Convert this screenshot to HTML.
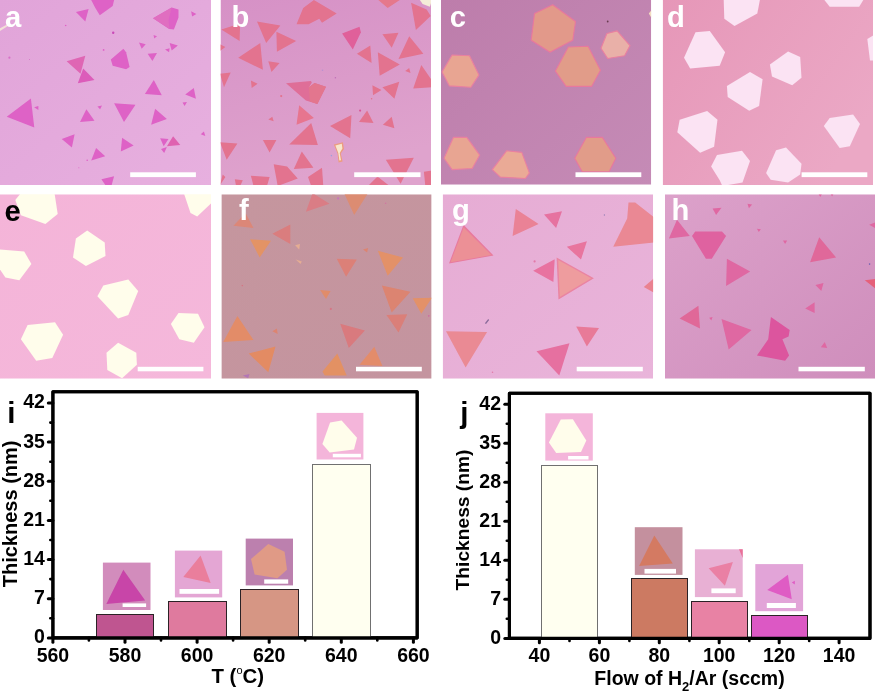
<!DOCTYPE html>
<html><head><meta charset="utf-8"><title>figure</title>
<style>
html,body{margin:0;padding:0;background:#fff;}
body{width:875px;height:693px;overflow:hidden;font-family:"Liberation Sans",sans-serif;}
svg{display:block;}
text{font-family:"Liberation Sans",sans-serif;font-weight:bold;}
</style></head><body>
<svg width="875" height="693" viewBox="0 0 875 693">
<defs>
<filter id="bl" x="-5%" y="-5%" width="110%" height="110%"><feGaussianBlur stdDeviation="0.68"/></filter>
<filter id="bs" x="-5%" y="-5%" width="110%" height="110%"><feGaussianBlur stdDeviation="0.5"/></filter>

<linearGradient id="ga" x1="0" y1="0" x2="1" y2="1"><stop offset="0" stop-color="#e1a4d9"/><stop offset="1" stop-color="#e7b0df"/></linearGradient>
<linearGradient id="gb" x1="0" y1="0" x2="0.3" y2="1"><stop offset="0" stop-color="#d691c6"/><stop offset="1" stop-color="#dfa3cd"/></linearGradient>
<linearGradient id="gc" x1="0" y1="0" x2="1" y2="1"><stop offset="0" stop-color="#bd7dab"/><stop offset="1" stop-color="#c58bb6"/></linearGradient>
<linearGradient id="gd" x1="0" y1="0" x2="1" y2="0.6"><stop offset="0" stop-color="#e697b8"/><stop offset="1" stop-color="#eba8c5"/></linearGradient>
<linearGradient id="ge" x1="0" y1="0" x2="1" y2="1"><stop offset="0" stop-color="#f4b4d8"/><stop offset="1" stop-color="#f5b8db"/></linearGradient>
<linearGradient id="gf" x1="0" y1="0" x2="1" y2="1"><stop offset="0" stop-color="#c5969e"/><stop offset="1" stop-color="#c4949f"/></linearGradient>
<linearGradient id="gg" x1="0" y1="0" x2="1" y2="1"><stop offset="0" stop-color="#e6acd4"/><stop offset="1" stop-color="#e9b4da"/></linearGradient>
<linearGradient id="gh" x1="0" y1="0" x2="1" y2="1"><stop offset="0" stop-color="#dca1ca"/><stop offset="1" stop-color="#cf8ebc"/></linearGradient>
<clipPath id="ca"><rect x="0" y="0" width="211" height="185"/></clipPath>
<clipPath id="cb"><rect x="220.5" y="0" width="210.5" height="185"/></clipPath>
<clipPath id="cc"><rect x="441" y="0" width="210.2" height="184.7"/></clipPath>
<clipPath id="cd"><rect x="662.7" y="0" width="210.3" height="185"/></clipPath>
<clipPath id="ce"><rect x="0" y="194.3" width="211" height="184.4"/></clipPath>
<clipPath id="cf"><rect x="221.4" y="194.3" width="210.2" height="184.4"/></clipPath>
<clipPath id="cg"><rect x="442.7" y="194.3" width="210.4" height="184.4"/></clipPath>
<clipPath id="ch"><rect x="665" y="194.3" width="210" height="184.4"/></clipPath>
</defs>
<rect width="875" height="693" fill="#fff"/>
<g clip-path="url(#ca)" opacity="0.999">
<rect x="0" y="0" width="211" height="185" fill="url(#ga)"/>
<g filter="url(#bl)">
<polygon points="91.2,0.0 114.1,0.0 112.7,5.9 99.8,15.3 95.3,8.1" fill="#de62c6"/>
<polygon points="75.9,12.1 88.6,8.9 85.3,21.5" fill="#de62c6"/>
<polygon points="153.0,18.2 171.7,7.5 178.5,9.4 178.5,17.4 173.9,29.5 169.1,29.0" fill="#de62c6"/>
<polygon points="153.0,18.2 171.7,7.5 168.5,20.1 169.6,29.0" fill="#e06ec0"/>
<polygon points="191.1,11.3 196.4,14.0 192.1,16.6" fill="#de62c6"/>
<circle cx="65.7" cy="25.5" r="0.8" fill="#de62c6"/>
<circle cx="113.2" cy="32.7" r="1.2" fill="#c948b8"/>
<circle cx="103.6" cy="49.9" r="0.9" fill="#de62c6"/>
<polygon points="153.5,34.9 157.0,36.2 154.3,38.4" fill="#de62c6"/>
<polygon points="139.0,42.4 145.7,44.3 141.7,48.8" fill="#de62c6"/>
<polygon points="169.6,42.9 177.9,45.6 171.7,50.5" fill="#de62c6"/>
<polygon points="165.0,49.6 169.6,48.3 169.1,52.3" fill="#de62c6"/>
<polygon points="147.6,53.7 157.0,52.9 152.4,60.9" fill="#de62c6"/>
<polygon points="66.6,61.2 85.3,55.8 80.5,73.8" fill="#df66b4"/>
<polygon points="83.2,68.4 94.5,80.0 77.8,83.2" fill="#dc5cba"/>
<polygon points="110.8,59.6 123.4,48.8 126.1,52.3 129.6,67.1 126.1,69.2 112.7,65.7" fill="#de62c6"/>
<polygon points="144.9,93.9 153.8,80.0 161.8,95.3" fill="#de62c6"/>
<polygon points="185.2,94.5 193.8,88.0 195.9,98.8" fill="#de62c6"/>
<polygon points="182.5,102.5 187.0,102.0 184.6,106.0" fill="#de62c6"/>
<polygon points="6.7,116.7 30.9,98.5 34.3,127.5" fill="#de62c6"/>
<polygon points="34.1,107.3 38.4,106.0 38.4,110.0" fill="#de62c6"/>
<polygon points="97.4,106.5 102.0,105.5 100.1,109.2" fill="#de62c6"/>
<polygon points="80.0,122.1 86.4,109.2 94.5,120.8" fill="#de62c6"/>
<polygon points="114.1,103.3 135.5,104.7 124.0,122.1" fill="#de62c6"/>
<polygon points="151.1,124.8 155.1,108.7 166.9,118.9" fill="#de62c6"/>
<polygon points="200.7,134.2 203.9,131.5 205.3,136.1" fill="#de62c6"/>
<polygon points="61.7,139.0 74.6,134.2 71.9,147.6" fill="#de62c6"/>
<polygon points="120.8,151.6 122.1,137.7 133.6,145.4" fill="#de62c6"/>
<polygon points="160.2,138.2 168.5,139.0 163.7,146.3" fill="#de62c6"/>
<polygon points="161.0,148.9 166.9,147.1 164.2,153.0" fill="#de62c6"/>
<polygon points="166.9,146.3 173.1,136.3 180.3,144.9" fill="#df62b0"/>
<polygon points="91.2,160.5 96.1,148.1 105.2,156.2" fill="#de62c6"/>
<circle cx="87.2" cy="160.2" r="0.8" fill="#de62c6"/>
<circle cx="78.9" cy="167.7" r="0.5" fill="#de62c6"/>
<circle cx="9.4" cy="57.7" r="1.1" fill="#d870c8"/>
<circle cx="29.5" cy="59.6" r="0.5" fill="#d870c8"/>
<polygon points="101.4,179.3 114.1,176.3 111.4,186.0 106.0,186.0" fill="#de62c6"/>
<polygon points="0.0,28.2 6.7,24.7 7.5,26.3 0.0,31.1" fill="#f3e0d8"/>
</g>
<rect x="130.2" y="172.3" width="65.7" height="4.8" fill="#fff" filter="url(#bs)"/>
<text x="5" y="26.8" font-size="29.2" fill="#fff">a</text>
</g>
<g clip-path="url(#cb)" opacity="0.999">
<rect x="220.5" y="0" width="210.5" height="185" fill="url(#gb)"/>
<g filter="url(#bl)">
<polygon points="221.3,29.5 240.1,23.6 239.6,41.1" fill="#e3738f"/>
<polygon points="257.0,21.5 280.4,25.5 266.2,42.9" fill="#e3738f"/>
<polygon points="276.4,31.7 296.2,41.1 276.9,51.8" fill="#e3738f"/>
<polygon points="296.5,24.2 303.2,8.1 313.9,0.0 336.7,13.4 322.0,22.8 319.3,18.8 308.6,24.2" fill="#e3738f"/>
<polygon points="238.2,57.7 260.3,42.9 262.9,69.8" fill="#e3738f"/>
<polygon points="268.3,61.2 279.6,63.1 271.5,71.9" fill="#e3738f"/>
<polygon points="220.0,44.3 225.4,47.0 220.0,51.0" fill="#e3738f"/>
<polygon points="220.0,73.8 230.7,72.5 224.0,87.2" fill="#e3738f"/>
<polygon points="250.9,80.5 257.6,83.7 251.7,88.0" fill="#e3738f"/>
<polygon points="286.0,83.2 311.0,81.0 311.8,82.7 308.8,87.2 314.5,82.9 326.0,86.7 317.4,104.1 305.9,100.6" fill="#df6e98"/>
<polygon points="308.8,87.2 314.5,82.9 326.0,86.7 317.4,104.1 309.9,101.4" fill="#e3768e"/>
<circle cx="281.2" cy="96.1" r="1.1" fill="#e3738f"/>
<polygon points="296.5,124.8 299.2,105.2 313.9,118.1" fill="#e7758f"/>
<polygon points="268.3,119.4 272.3,116.7 273.7,121.3" fill="#e3738f"/>
<polygon points="289.2,144.4 311.2,122.9 317.9,144.9" fill="#e3738f"/>
<polygon points="262.9,140.1 276.4,140.1 269.6,152.4" fill="#e3738f"/>
<polygon points="220.0,142.2 237.4,143.6 226.7,159.7" fill="#e3738f"/>
<polygon points="293.8,169.1 301.8,151.6 313.4,167.7" fill="#e3738f"/>
<polygon points="273.7,164.2 287.1,166.4 297.8,178.5 277.7,186.0" fill="#e3738f"/>
<polygon points="250.9,175.8 269.6,177.1 267.0,186.0 253.5,186.0" fill="#e3738f"/>
<polygon points="234.8,179.3 242.8,180.3 240.1,186.0 236.1,186.0" fill="#e3738f"/>
<polygon points="308.0,177.1 322.0,167.7 323.3,186.0 311.2,186.0" fill="#e3738f"/>
<polygon points="330.0,126.1 351.5,114.9 350.2,138.2" fill="#e3738f"/>
<polygon points="342.1,33.5 359.5,26.8 360.9,32.2 352.8,49.6" fill="#e0609a"/>
<polygon points="356.9,53.7 370.3,45.6 371.6,63.1" fill="#e3738f"/>
<polygon points="382.4,34.3 398.5,32.7 391.7,47.8" fill="#e3738f"/>
<polygon points="398.5,59.0 409.2,36.2 423.4,53.7" fill="#e3738f"/>
<polygon points="411.1,2.7 426.6,9.4 430.7,16.1 415.9,30.1" fill="#e3738f"/>
<polygon points="378.3,0.0 399.8,0.0 387.7,8.1" fill="#e5788c"/>
<polygon points="419.9,0.0 432.0,0.0 429.9,6.7 422.6,4.0" fill="#f4ecd8"/>
<polygon points="377.8,52.3 399.8,64.4 379.7,75.7" fill="#e3738f"/>
<polygon points="405.2,71.1 409.2,67.9 410.5,73.0" fill="#e3738f"/>
<polygon points="413.2,88.6 421.3,64.9 432.0,80.5 432.0,87.2" fill="#e3738f"/>
<polygon points="382.4,87.2 399.3,81.8 394.4,98.8" fill="#e3738f"/>
<polygon points="372.4,85.3 381.5,89.9 373.0,95.3" fill="#e3738f"/>
<circle cx="371.6" cy="98.8" r="0.8" fill="#e3738f"/>
<circle cx="360.1" cy="110.6" r="1.1" fill="#d85898"/>
<polygon points="359.0,122.1 367.1,110.6 373.5,122.9" fill="#e3738f"/>
<polygon points="382.9,124.8 391.7,116.7 394.4,128.3" fill="#e3738f"/>
<polygon points="385.8,159.7 413.8,157.8 400.6,183.8" fill="#e3738f"/>
<polygon points="367.9,186.0 377.5,176.6 389.6,186.0" fill="#e3738f"/>
<polygon points="423.9,171.7 432.0,170.4 432.0,186.0 425.3,186.0" fill="#e3738f"/>
<polygon points="220.0,185.2 222.7,174.4 225.4,177.1" fill="#e3738f"/>
<polygon points="333.8,144.4 342.9,142.2 344.0,148.9 340.8,153.5 342.6,161.5 338.6,162.4 337.5,153.5" fill="#ec9c80"/>
<polygon points="335.4,145.4 341.8,143.8 342.4,148.4 339.7,153.0 341.0,160.2 339.4,160.5 338.3,153.0" fill="#f8e8cc"/>
<circle cx="322.5" cy="70.3" r="0.8" fill="#b890d0"/>
<circle cx="335.4" cy="77.8" r="0.8" fill="#c070b8"/>
<circle cx="331.4" cy="155.6" r="0.8" fill="#a0a0d8"/>
</g>
<rect x="354.2" y="172.3" width="66.3" height="4.8" fill="#fff" filter="url(#bs)"/>
<text x="231.5" y="26.8" font-size="29.2" fill="#fff">b</text>
</g>
<g clip-path="url(#cc)" opacity="0.999">
<rect x="441" y="0" width="210.2" height="184.7" fill="url(#gc)"/>
<g filter="url(#bl)">
<polygon points="531.2,40.3 534.5,13.4 552.7,4.8 575.5,21.5 572.8,40.3 550.0,52.3" fill="#e2998a" stroke="#e8789e" stroke-width="1.1" stroke-linejoin="round"/>
<polygon points="555.4,71.1 568.3,47.0 588.1,46.2 600.5,70.3 591.6,86.4 566.1,86.4" fill="#e19c89" stroke="#e8789e" stroke-width="1.1" stroke-linejoin="round"/>
<polygon points="601.0,48.3 606.9,33.5 617.1,30.9 630.0,45.6 624.6,55.8 607.7,58.5" fill="#e9b0a8" stroke="#ea80a0" stroke-width="1.1" stroke-linejoin="round"/>
<polygon points="442.1,71.9 452.1,55.0 469.5,55.8 478.9,75.1 470.9,87.2 449.4,85.9" fill="#e8a592" stroke="#ea80a0" stroke-width="1.1" stroke-linejoin="round"/>
<polygon points="444.0,158.3 453.4,137.4 466.8,137.4 479.7,155.1 472.2,168.5 452.1,169.6" fill="#e8a592" stroke="#ea80a0" stroke-width="1.1" stroke-linejoin="round"/>
<polygon points="492.3,169.6 506.6,150.8 521.8,152.4 529.4,173.1 525.3,178.5 500.4,177.1" fill="#eaaa96" stroke="#ea80a0" stroke-width="1.1" stroke-linejoin="round"/>
<polygon points="574.7,158.3 586.3,137.4 602.4,137.4 615.8,158.3 609.1,171.7 582.2,171.7" fill="#e19c89" stroke="#e8789e" stroke-width="1.1" stroke-linejoin="round"/>
<polygon points="648.8,13.4 652.0,9.4 652.0,18.8" fill="#f3dcc0"/>
<circle cx="607.7" cy="21.5" r="0.9" fill="#6a3a50"/>
</g>
<rect x="575.5" y="172.3" width="65.8" height="4.8" fill="#fff" filter="url(#bs)"/>
<text x="449.8" y="26.8" font-size="29.2" fill="#fff">c</text>
</g>
<g clip-path="url(#cd)" opacity="0.999">
<rect x="662.7" y="0" width="210.3" height="185" fill="url(#gd)"/>
<g filter="url(#bl)">
<polygon points="723.7,0.0 759.9,0.0 757.3,13.4 734.5,26.0 724.3,18.8" fill="#fbe3f3"/>
<polygon points="824.4,0.0 863.3,0.0 859.2,6.7 829.7,6.7" fill="#fbe3f3"/>
<polygon points="684.0,57.7 695.5,32.2 709.8,30.9 725.1,52.3 719.7,65.7 690.2,68.4" fill="#fbe3f3"/>
<polygon points="769.9,64.4 788.1,51.5 800.2,56.9 801.5,77.8 792.2,85.3 772.0,76.5" fill="#fbe3f3"/>
<polygon points="726.9,85.9 750.0,71.9 762.6,79.2 759.1,106.0 749.2,110.8 727.7,97.1" fill="#fbe3f3"/>
<polygon points="867.3,38.9 874.0,34.9 874.0,60.4 870.0,60.4" fill="#fbe3f3"/>
<polygon points="677.3,132.3 679.7,119.7 707.1,111.1 717.5,119.7 714.1,146.8 700.1,152.7" fill="#fbe3f3"/>
<polygon points="823.8,126.1 829.7,118.1 853.1,114.6 860.0,124.0 849.8,146.3 839.7,148.1" fill="#fbe3f3"/>
<polygon points="711.1,166.4 717.0,155.1 742.0,150.8 750.0,161.0 742.5,182.5 722.4,186.0 719.7,180.3" fill="#fbe3f3"/>
<polygon points="766.1,173.1 776.1,150.3 786.0,147.6 801.5,163.7 800.2,174.4 788.1,182.5 770.7,179.8" fill="#fbe3f3"/>
</g>
<rect x="801.6" y="172.3" width="65.7" height="4.8" fill="#fff" filter="url(#bs)"/>
<text x="667" y="26.8" font-size="29.2" fill="#fff">d</text>
</g>
<g clip-path="url(#ce)" opacity="0.999">
<rect x="0" y="194.3" width="211" height="184.4" fill="url(#ge)"/>
<g filter="url(#bl)">
<polygon points="15.3,200.0 20.9,193.0 54.5,193.0 57.7,213.9 45.4,224.1 20.9,215.3" fill="#fffdeb"/>
<polygon points="183.8,193.0 212.0,193.0 212.0,202.4 197.2,216.6 190.5,213.1" fill="#fffdeb"/>
<polygon points="73.0,257.4 75.9,238.6 87.2,230.6 104.7,242.6 105.5,256.1 85.9,266.0" fill="#fffdeb"/>
<polygon points="0.0,249.4 24.2,251.5 31.4,264.1 19.3,280.2 5.4,277.5 0.0,269.5" fill="#fffdeb"/>
<polygon points="97.4,296.3 103.3,285.6 128.3,279.4 138.2,290.9 128.3,315.1 118.1,318.6" fill="#fffdeb"/>
<polygon points="170.9,324.0 178.5,313.0 198.0,313.8 204.5,327.2 193.8,342.7 179.3,339.3" fill="#fffdeb"/>
<polygon points="20.9,339.3 27.6,325.0 55.0,322.3 63.1,334.7 52.3,358.0 36.2,360.7" fill="#fffdeb"/>
<polygon points="106.5,352.7 118.1,342.7 136.3,352.7 136.9,364.7 122.1,378.2 107.3,370.1" fill="#fffdeb"/>
</g>
<rect x="137.7" y="366.8" width="65.7" height="4.5" fill="#fff" filter="url(#bs)"/>
<text x="4.5" y="221" font-size="29.2" fill="#000">e</text>
</g>
<g clip-path="url(#cf)" opacity="0.999">
<rect x="221.4" y="194.3" width="210.2" height="184.4" fill="url(#gf)"/>
<g filter="url(#bl)">
<polygon points="305.9,211.8 312.6,193.0 329.5,203.7" fill="#da7d85"/>
<polygon points="344.0,193.0 368.1,193.0 354.2,215.0" fill="#dc8c72"/>
<polygon points="233.4,225.7 245.5,213.1 253.5,227.9" fill="#dc8778"/>
<polygon points="272.3,233.8 290.3,224.4 290.3,244.0" fill="#da7d7e"/>
<polygon points="250.1,239.2 271.0,240.8 259.7,257.4" fill="#e39365"/>
<polygon points="336.7,258.7 356.9,259.6 346.1,276.7" fill="#dc8078"/>
<polygon points="377.8,250.7 403.0,257.4 387.7,275.7" fill="#e39168"/>
<polygon points="363.0,249.4 368.1,248.0 367.1,252.6" fill="#dc8471"/>
<polygon points="320.1,290.1 330.6,290.9 326.0,299.0" fill="#e08c6a"/>
<polygon points="381.8,285.6 410.5,291.8 391.7,312.4" fill="#dc8471"/>
<polygon points="412.7,298.2 432.0,297.7 421.3,313.8" fill="#e39168"/>
<polygon points="386.4,315.1 407.3,314.3 398.5,332.5" fill="#da7f79"/>
<polygon points="340.2,323.7 364.9,330.4 348.8,348.1" fill="#d97a7e"/>
<polygon points="223.2,341.9 237.4,315.9 253.5,340.1" fill="#e38c68"/>
<polygon points="272.3,331.2 276.9,328.5 277.7,333.9" fill="#dc8471"/>
<polygon points="248.7,353.5 275.5,346.5 268.3,372.3" fill="#e38b63"/>
<polygon points="322.5,371.5 337.3,353.5 346.7,375.5 324.7,375.5" fill="#e39163"/>
<polygon points="359.5,364.7 374.3,346.8 382.4,366.1" fill="#e38c6a"/>
<circle cx="330.8" cy="308.9" r="1.1" fill="#d57685"/>
<circle cx="242.3" cy="285.6" r="0.8" fill="#d57685"/>
<circle cx="385.6" cy="203.2" r="0.8" fill="#cf76a0"/>
<circle cx="338.1" cy="198.4" r="1.1" fill="#c876bc"/>
<circle cx="428.8" cy="315.9" r="0.8" fill="#cf69a0"/>
<polygon points="295.1,245.3 300.0,244.0 299.2,249.4" fill="#e5ad93"/>
<polygon points="295.7,259.6 301.8,261.4 300.5,264.1" fill="#e5ad93"/>
<polygon points="242.8,375.5 249.5,374.1 248.2,378.2" fill="#b376b5"/>
</g>
<rect x="356.0" y="366.8" width="65.8" height="4.5" fill="#fff" filter="url(#bs)"/>
<text x="239" y="219.8" font-size="29.2" fill="#fff">f</text>
</g>
<g clip-path="url(#cg)" opacity="0.999">
<rect x="442.7" y="194.3" width="210.4" height="184.4" fill="url(#gg)"/>
<g filter="url(#bl)">
<polygon points="449.0,263.6 463.5,224.7 493.5,255.5" fill="#e87a9e"/>
<polygon points="450.6,262.2 463.7,227.6 491.4,255.0" fill="#ec9096"/>
<polygon points="512.6,235.9 515.8,209.1 538.6,223.9" fill="#ea8296"/>
<polygon points="544.0,214.5 562.0,211.2 556.1,227.9" fill="#e672a0"/>
<polygon points="566.8,246.7 586.9,241.3 581.0,259.6" fill="#e8749e"/>
<polygon points="533.2,270.8 554.7,259.3 553.4,282.1" fill="#e872a0"/>
<polygon points="556.6,257.4 593.9,278.3 558.5,299.5" fill="#ea84a2"/>
<polygon points="558.2,260.1 591.2,278.3 559.8,297.1" fill="#ee9c9e"/>
<polygon points="613.2,246.7 627.2,218.5 628.5,202.4 635.2,202.4 654.0,217.2 654.0,242.6" fill="#ea8894"/>
<polygon points="643.8,286.9 654.0,278.3 654.0,292.8" fill="#ea8290"/>
<polygon points="446.0,331.2 487.1,332.0 465.6,367.4" fill="#ea8a94"/>
<polygon points="576.2,326.4 599.0,328.0 586.9,346.5" fill="#e87a98"/>
<polygon points="536.5,351.3 569.5,343.3 559.3,375.5" fill="#e670a0"/>
<circle cx="534.6" cy="261.4" r="1.1" fill="#e27aa8"/>
<circle cx="492.5" cy="372.3" r="0.8" fill="#e27aa8"/>
<circle cx="604.4" cy="215.0" r="0.7" fill="#9a80b8"/>
<polygon points="484.9,323.2 488.2,319.1 489.2,319.9 486.0,324.0" fill="#8a6a9a"/>
</g>
<rect x="576.7" y="366.8" width="66.1" height="4.5" fill="#fff" filter="url(#bs)"/>
<text x="452" y="220" font-size="29.2" fill="#fff">g</text>
</g>
<g clip-path="url(#ch)" opacity="0.999">
<rect x="665" y="194.3" width="210" height="184.4" fill="url(#gh)"/>
<g filter="url(#bl)">
<polygon points="668.9,238.6 677.0,219.8 689.8,235.9" fill="#df68a2"/>
<polygon points="692.0,235.9 695.2,231.4 722.0,231.4 726.1,235.9 711.8,258.7 705.9,258.7" fill="#df62a0"/>
<polygon points="712.6,208.6 721.5,207.8 716.1,215.0" fill="#df68a2"/>
<polygon points="747.5,203.7 752.1,204.5 748.9,208.3" fill="#df68a2"/>
<polygon points="756.9,228.7 760.9,229.2 758.8,231.9" fill="#df68a2"/>
<polygon points="783.0,240.5 787.2,240.5 785.1,244.0" fill="#df68a2"/>
<polygon points="810.1,262.2 819.2,237.3 836.1,257.4" fill="#e0689a"/>
<polygon points="869.1,224.7 875.0,222.5 875.0,227.9" fill="#df68a2"/>
<polygon points="726.1,286.1 726.9,258.7 750.2,271.6" fill="#df68a2"/>
<polygon points="815.4,285.0 823.5,282.9 821.3,290.9" fill="#df68a2"/>
<polygon points="864.8,280.2 875.0,278.9 875.0,288.3" fill="#e5607a"/>
<polygon points="805.2,308.4 814.6,302.2 814.6,313.0" fill="#df68a2"/>
<polygon points="679.6,318.6 698.4,305.7 700.0,328.5" fill="#e06898"/>
<polygon points="709.2,317.8 712.6,317.0 711.3,320.5" fill="#df68a2"/>
<polygon points="721.5,319.1 751.6,329.9 728.7,349.5" fill="#df68a2"/>
<polygon points="756.9,355.4 768.2,339.3 770.9,317.0 789.7,329.9 788.6,336.6 782.4,339.3 789.1,355.4 785.1,360.7" fill="#dc559e"/>
<polygon points="820.8,347.3 824.8,341.9 827.2,348.1" fill="#df68a2"/>
<polygon points="818.6,194.3 821.9,194.3 820.3,197.0" fill="#df68a2"/>
<polygon points="830.7,194.3 833.4,194.3 832.1,196.5" fill="#df68a2"/>
<circle cx="869.6" cy="264.1" r="0.8" fill="#7060b0"/>
</g>
<rect x="798.5" y="366.8" width="66.3" height="4.5" fill="#fff" filter="url(#bs)"/>
<text x="671.4" y="219.8" font-size="29.2" fill="#fff">h</text>
</g>
<g id="chart-i" opacity="0.999">
<rect x="52.90" y="391.75" width="364.30" height="246.10" fill="#fff" stroke="#000" stroke-width="3.05" stroke-linejoin="round"/>
<g stroke="#000" stroke-linecap="round" fill="none">
<line x1="48.3" y1="637.9" x2="52.9" y2="637.9" stroke-width="3"/>
<line x1="48.3" y1="598.7" x2="52.9" y2="598.7" stroke-width="3"/>
<line x1="48.3" y1="559.6" x2="52.9" y2="559.6" stroke-width="3"/>
<line x1="48.3" y1="520.4" x2="52.9" y2="520.4" stroke-width="3"/>
<line x1="48.3" y1="481.3" x2="52.9" y2="481.3" stroke-width="3"/>
<line x1="48.3" y1="442.1" x2="52.9" y2="442.1" stroke-width="3"/>
<line x1="48.3" y1="403.0" x2="52.9" y2="403.0" stroke-width="3"/>
<line x1="50.3" y1="618.3" x2="52.9" y2="618.3" stroke-width="2.6"/>
<line x1="50.3" y1="579.1" x2="52.9" y2="579.1" stroke-width="2.6"/>
<line x1="50.3" y1="540.0" x2="52.9" y2="540.0" stroke-width="2.6"/>
<line x1="50.3" y1="500.8" x2="52.9" y2="500.8" stroke-width="2.6"/>
<line x1="50.3" y1="461.7" x2="52.9" y2="461.7" stroke-width="2.6"/>
<line x1="50.3" y1="422.6" x2="52.9" y2="422.6" stroke-width="2.6"/>
<line x1="52.9" y1="637.9" x2="52.9" y2="642.2" stroke-width="3"/>
<line x1="125.0" y1="637.9" x2="125.0" y2="642.2" stroke-width="3"/>
<line x1="197.1" y1="637.9" x2="197.1" y2="642.2" stroke-width="3"/>
<line x1="269.2" y1="637.9" x2="269.2" y2="642.2" stroke-width="3"/>
<line x1="341.3" y1="637.9" x2="341.3" y2="642.2" stroke-width="3"/>
<line x1="413.4" y1="637.9" x2="413.4" y2="642.2" stroke-width="3"/>
<line x1="88.9" y1="637.9" x2="88.9" y2="640.5" stroke-width="2.6"/>
<line x1="161.0" y1="637.9" x2="161.0" y2="640.5" stroke-width="2.6"/>
<line x1="233.1" y1="637.9" x2="233.1" y2="640.5" stroke-width="2.6"/>
<line x1="305.2" y1="637.9" x2="305.2" y2="640.5" stroke-width="2.6"/>
<line x1="377.3" y1="637.9" x2="377.3" y2="640.5" stroke-width="2.6"/>
</g>
<text x="44.9" y="643.2" font-size="19.5" text-anchor="end">0</text>
<text x="44.9" y="604.1" font-size="19.5" text-anchor="end">7</text>
<text x="44.9" y="565.0" font-size="19.5" text-anchor="end">14</text>
<text x="44.9" y="525.8" font-size="19.5" text-anchor="end">21</text>
<text x="44.9" y="486.7" font-size="19.5" text-anchor="end">28</text>
<text x="44.9" y="447.5" font-size="19.5" text-anchor="end">35</text>
<text x="44.9" y="408.4" font-size="19.5" text-anchor="end">42</text>
<text x="52.9" y="661.8" font-size="19.5" text-anchor="middle">560</text>
<text x="125.0" y="661.8" font-size="19.5" text-anchor="middle">580</text>
<text x="197.1" y="661.8" font-size="19.5" text-anchor="middle">600</text>
<text x="269.2" y="661.8" font-size="19.5" text-anchor="middle">620</text>
<text x="341.3" y="661.8" font-size="19.5" text-anchor="middle">640</text>
<text x="413.4" y="661.8" font-size="19.5" text-anchor="middle">660</text>
<text x="237.8" y="682.7" font-size="20.4" text-anchor="middle">T (<tspan font-size="11" font-weight="normal" dy="-8.5">o</tspan><tspan dy="8.5">C)</tspan></text>
<text transform="translate(17.2,513.9) rotate(-90)" font-size="20.0" text-anchor="middle">Thickness (nm)</text>
<text x="7.2" y="422.5" font-size="29.5">i</text>
<rect x="96.5" y="614.5" width="57.0" height="23.3" fill="#bf5590" stroke="#2b2226" stroke-width="1"/>
<rect x="168.5" y="601.5" width="58.0" height="36.3" fill="#df7a9e" stroke="#2b2226" stroke-width="1"/>
<rect x="240.5" y="589.5" width="58.0" height="48.3" fill="#d69684" stroke="#2b2226" stroke-width="1"/>
<rect x="312.5" y="464.5" width="58.0" height="173.3" fill="#fffff0" stroke="#707070" stroke-width="1"/>
<rect x="102.9" y="562.6" width="47.6" height="47.4" fill="#d28cbc"/>
<g filter="url(#bs)">
<polygon points="106.3,603.9 123.3,569.8 145.2,600.5" fill="#c845a8"/>
<rect x="122.6" y="603.4" width="23.5" height="3.6" fill="#fff"/>
</g>
<rect x="174.9" y="550.6" width="47.3" height="46.8" fill="#e4a6d4"/>
<g filter="url(#bs)">
<polygon points="183.3,577.0 200.6,555.4 210.7,583.0" fill="#ea7e9c"/>
<rect x="179.5" y="589.0" width="39.6" height="4.8" fill="#fff"/>
</g>
<rect x="245.7" y="538.6" width="47.3" height="46.8" fill="#bc80ae"/>
<g filter="url(#bs)">
<polygon points="251.0,559.0 268.3,544.1 284.6,551.8 287.0,569.8 277.4,578.2 254.6,574.6" fill="#e09a86"/>
<rect x="264.2" y="579.4" width="24.0" height="4.3" fill="#fff"/>
</g>
<rect x="316.6" y="412.9" width="46.8" height="46.6" fill="#f4b5da"/>
<g filter="url(#bs)">
<polygon points="322.4,443.9 330.1,422.4 341.6,420.4 357.0,437.8 354.0,449.4 329.7,452.5" fill="#fffdeb"/>
<rect x="332.8" y="453.8" width="28.1" height="3.5" fill="#fff"/>
</g>
<rect x="52.9" y="391.75" width="364.3" height="246.1" fill="none" stroke="#000" stroke-width="3.05" stroke-linejoin="round"/>
</g>
<g id="chart-j" opacity="0.999">
<rect x="509.40" y="393.30" width="360.60" height="245.05" fill="#fff" stroke="#000" stroke-width="3.05" stroke-linejoin="round"/>
<g stroke="#000" stroke-linecap="round" fill="none">
<line x1="504.8" y1="638.4" x2="509.4" y2="638.4" stroke-width="3"/>
<line x1="504.8" y1="599.3" x2="509.4" y2="599.3" stroke-width="3"/>
<line x1="504.8" y1="560.3" x2="509.4" y2="560.3" stroke-width="3"/>
<line x1="504.8" y1="521.3" x2="509.4" y2="521.3" stroke-width="3"/>
<line x1="504.8" y1="482.2" x2="509.4" y2="482.2" stroke-width="3"/>
<line x1="504.8" y1="443.2" x2="509.4" y2="443.2" stroke-width="3"/>
<line x1="504.8" y1="404.2" x2="509.4" y2="404.2" stroke-width="3"/>
<line x1="506.8" y1="618.8" x2="509.4" y2="618.8" stroke-width="2.6"/>
<line x1="506.8" y1="579.8" x2="509.4" y2="579.8" stroke-width="2.6"/>
<line x1="506.8" y1="540.8" x2="509.4" y2="540.8" stroke-width="2.6"/>
<line x1="506.8" y1="501.7" x2="509.4" y2="501.7" stroke-width="2.6"/>
<line x1="506.8" y1="462.7" x2="509.4" y2="462.7" stroke-width="2.6"/>
<line x1="506.8" y1="423.7" x2="509.4" y2="423.7" stroke-width="2.6"/>
<line x1="539.4" y1="638.4" x2="539.4" y2="642.8" stroke-width="3"/>
<line x1="599.4" y1="638.4" x2="599.4" y2="642.8" stroke-width="3"/>
<line x1="659.3" y1="638.4" x2="659.3" y2="642.8" stroke-width="3"/>
<line x1="719.2" y1="638.4" x2="719.2" y2="642.8" stroke-width="3"/>
<line x1="779.2" y1="638.4" x2="779.2" y2="642.8" stroke-width="3"/>
<line x1="839.1" y1="638.4" x2="839.1" y2="642.8" stroke-width="3"/>
<line x1="569.5" y1="638.4" x2="569.5" y2="641.0" stroke-width="2.6"/>
<line x1="629.4" y1="638.4" x2="629.4" y2="641.0" stroke-width="2.6"/>
<line x1="689.4" y1="638.4" x2="689.4" y2="641.0" stroke-width="2.6"/>
<line x1="749.3" y1="638.4" x2="749.3" y2="641.0" stroke-width="2.6"/>
<line x1="809.2" y1="638.4" x2="809.2" y2="641.0" stroke-width="2.6"/>
</g>
<text x="501.0" y="643.8" font-size="19.5" text-anchor="end">0</text>
<text x="501.0" y="604.7" font-size="19.5" text-anchor="end">7</text>
<text x="501.0" y="565.7" font-size="19.5" text-anchor="end">14</text>
<text x="501.0" y="526.7" font-size="19.5" text-anchor="end">21</text>
<text x="501.0" y="487.6" font-size="19.5" text-anchor="end">28</text>
<text x="501.0" y="448.6" font-size="19.5" text-anchor="end">35</text>
<text x="501.0" y="409.6" font-size="19.5" text-anchor="end">42</text>
<text x="539.4" y="661.8" font-size="19.5" text-anchor="middle">40</text>
<text x="599.4" y="661.8" font-size="19.5" text-anchor="middle">60</text>
<text x="659.3" y="661.8" font-size="19.5" text-anchor="middle">80</text>
<text x="719.2" y="661.8" font-size="19.5" text-anchor="middle">100</text>
<text x="779.2" y="661.8" font-size="19.5" text-anchor="middle">120</text>
<text x="839.1" y="661.8" font-size="19.5" text-anchor="middle">140</text>
<text x="689.5" y="685.1" font-size="19.5" text-anchor="middle">Flow of H<tspan font-size="13" dy="5.5">2</tspan><tspan dy="-5.5">/Ar (sccm)</tspan></text>
<text transform="translate(469.0,520.0) rotate(-90)" font-size="19.2" text-anchor="middle">Thickness (nm)</text>
<text x="460.2" y="422.5" font-size="29.5">j</text>
<rect x="541.5" y="465.5" width="56.0" height="172.7" fill="#fffff0" stroke="#707070" stroke-width="1"/>
<rect x="631.5" y="578.5" width="56.0" height="59.7" fill="#cc7a62" stroke="#2b2226" stroke-width="1"/>
<rect x="691.5" y="601.5" width="56.0" height="36.7" fill="#e882a4" stroke="#2b2226" stroke-width="1"/>
<rect x="751.5" y="615.5" width="56.0" height="22.7" fill="#dc58c4" stroke="#2b2226" stroke-width="1"/>
<rect x="545.3" y="413.3" width="47.5" height="47.3" fill="#f4b5da"/>
<g filter="url(#bs)">
<polygon points="548.9,442.4 560.8,419.6 572.9,419.3 586.3,440.4 581.0,452.0 556.2,453.0" fill="#fffdeb"/>
<rect x="568.1" y="456.0" width="20.4" height="3.5" fill="#fff"/>
</g>
<rect x="634.8" y="527.2" width="47.7" height="47.7" fill="#c4909e"/>
<g filter="url(#bs)">
<polygon points="639.1,566.0 654.3,535.6 672.8,563.4" fill="#d47a62"/>
<rect x="644.5" y="568.9" width="31.5" height="4.7" fill="#fff"/>
</g>
<rect x="694.9" y="549.3" width="47.8" height="47.8" fill="#e8b0d4"/>
<g filter="url(#bs)">
<polygon points="708.6,568.2 732.9,561.9 724.9,585.8" fill="#ea80a4"/>
<polygon points="739.0,549.3 742.7,549.3 742.7,558.0" fill="#ea7098"/>
<rect x="711.4" y="588.4" width="24.3" height="4.8" fill="#fff"/>
</g>
<rect x="755.3" y="564.1" width="47.8" height="47.1" fill="#e2a4d8"/>
<g filter="url(#bs)">
<polygon points="767.2,589.9 787.9,574.7 791.8,599.3" fill="#df5cc4"/>
<polygon points="791.8,582.5 794.8,580.8 794.8,584.5" fill="#df5cc4"/>
<rect x="766.8" y="603.0" width="29.1" height="5.0" fill="#fff"/>
</g>
<rect x="509.4" y="393.3" width="360.6" height="245.05" fill="none" stroke="#000" stroke-width="3.05" stroke-linejoin="round"/>
</g>
</svg></body></html>
